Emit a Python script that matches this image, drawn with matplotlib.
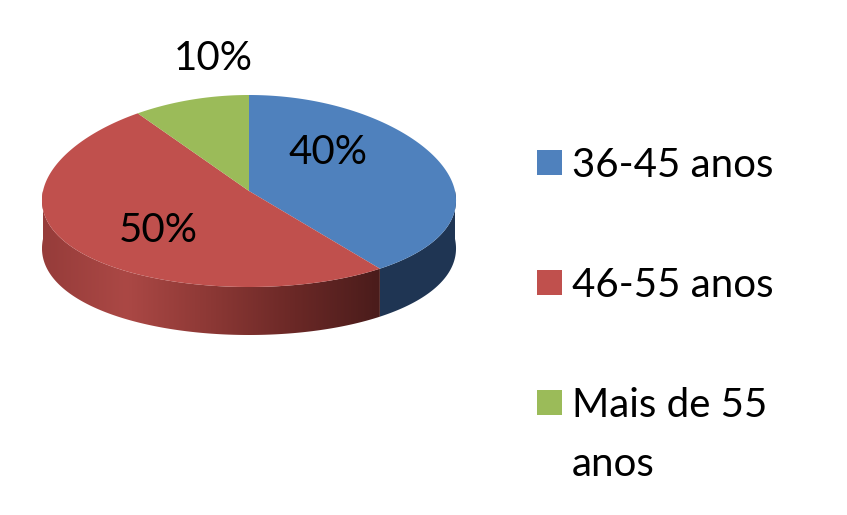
import numpy as np
import matplotlib.pyplot as plt
from matplotlib.patches import Polygon, Rectangle
from matplotlib.colors import LinearSegmentedColormap

plt.rcParams['font.family'] = ['Lato', 'DejaVu Sans']

# data
categories = ["36-45 anos", "46-55 anos", "Mais de 55\nanos"]
values = [40, 50, 10]
pct_labels = ["40%", "50%", "10%"]

top_colors = ["#4f81bd", "#c0504d", "#9bbb59"]
side_colors = ["#1f3553", None, "#5f7a33"]
red_side = LinearSegmentedColormap.from_list(
    "red_side", ["#963c3a", "#ab4845", "#8c3835", "#6a2826", "#4a1c1b"])

# layout (pixels)
cx, cy = 249, 191
a, b = 206, 96
depth = 48
persp = 0.1
label_pos = [(328, 152), (158, 231), (213, 58)]

fig = plt.figure(figsize=(8.47, 5.15), dpi=100)
ax = fig.add_axes([0, 0, 1, 1])
ax.set_xlim(0, 847)
ax.set_ylim(515, 0)
ax.axis("off")


def pt(theta, dz=0):
    # slight perspective: front of the pie is wider than the back
    return (cx + a * np.sin(theta) * (1 - persp * np.cos(theta)),
            cy - b * np.cos(theta) + dz)


fracs = np.array(values) / sum(values)
edges = np.concatenate([[0], np.cumsum(fracs)]) * 2 * np.pi

# side walls (front half only)
for i in range(len(values)):
    t1 = max(edges[i], np.pi / 2)
    t2 = min(edges[i + 1], 3 * np.pi / 2)
    if t2 <= t1:
        continue
    th = np.linspace(t1, t2, 200)
    xs, ys = pt(th)
    xb, yb = pt(th[::-1], depth)
    verts = np.column_stack([np.concatenate([xs, xb]), np.concatenate([ys, yb])])
    if side_colors[i] is None:
        poly = Polygon(verts, closed=True, facecolor="none", edgecolor="none")
        ax.add_patch(poly)
        grad = np.linspace(0, 1, 256).reshape(1, -1)
        x0, x1 = verts[:, 0].min(), verts[:, 0].max()
        y0, y1 = verts[:, 1].min(), verts[:, 1].max()
        im = ax.imshow(grad, cmap=red_side, aspect="auto",
                       extent=[x0, x1, y1, y0], zorder=1)
        im.set_clip_path(poly)
    else:
        ax.add_patch(Polygon(verts, closed=True, facecolor=side_colors[i],
                             edgecolor="none", zorder=1))

# top faces
for i in range(len(values)):
    th = np.linspace(edges[i], edges[i + 1], 200)
    xs, ys = pt(th)
    verts = np.column_stack([np.concatenate([[cx], xs]), np.concatenate([[cy], ys])])
    ax.add_patch(Polygon(verts, closed=True, facecolor=top_colors[i],
                         edgecolor="none", zorder=2))

for (lx, ly), txt in zip(label_pos, pct_labels):
    ax.text(lx, ly, txt, fontsize=29, ha="center", va="center", zorder=3)

# legend
for i, (cat, col) in enumerate(zip(categories, top_colors)):
    y = 162 + 120 * i
    ax.add_patch(Rectangle((537, y - 12.5), 25, 25, facecolor=col, edgecolor="none"))
    ax.text(572, y - 15, cat, fontsize=29, ha="left", va="top", linespacing=1.72)

fig.savefig("out.png", dpi=100)
